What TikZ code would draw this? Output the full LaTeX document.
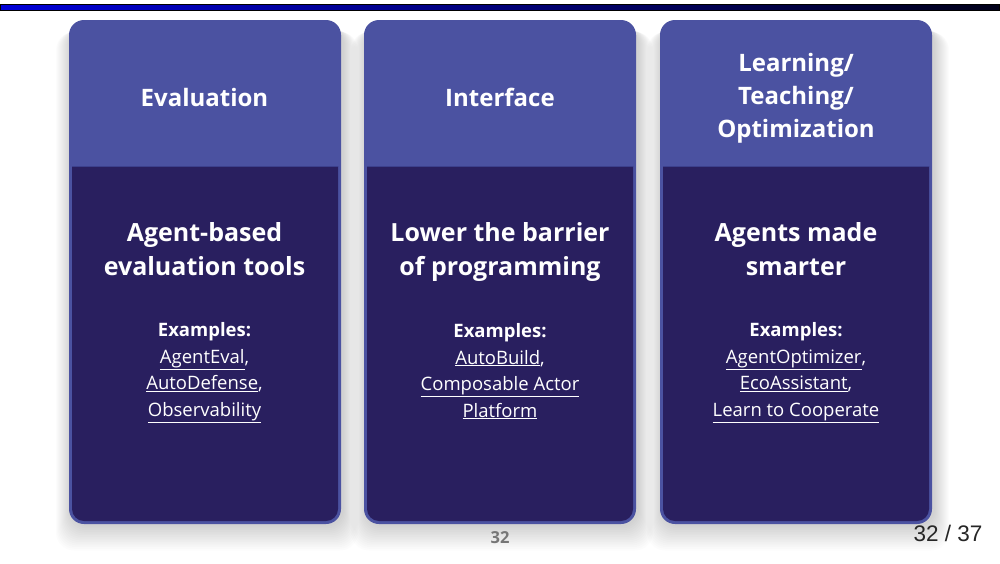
\documentclass[tikz,border=0pt]{standalone}
\usepackage{fontspec}
\setmainfont{Open Sans}
\newfontfamily\helv{Liberation Sans}

\definecolor{hdr}{RGB}{75,82,161}
\definecolor{bodyc}{RGB}{41,31,95}
\definecolor{hdrline}{RGB}{60,64,140}
\definecolor{barblue}{RGB}{0,0,215}
\definecolor{pagegray}{RGB}{118,118,118}

\newcommand{\lnk}[1]{\underline{#1}}

\tikzset{
  card/.style={fill=hdr, rounded corners=15pt, minimum width=272pt,
    minimum height=504pt, inner sep=0pt},
  shadowlayer/.style={fill=black, opacity=0.013, rounded corners=18pt},
  title/.style={text=white, align=center, font=\fontsize{24}{33}\selectfont\bfseries},
  claim/.style={text=white, align=center, font=\fontsize{25}{34}\selectfont\bfseries},
  examples/.style={text=white, align=center, font=\fontsize{18.5}{26.5}\selectfont},
}

\begin{document}
\begin{tikzpicture}[x=1pt,y=-1pt]
\useasboundingbox (0,0) rectangle (1000,563);
\fill[white] (0,0) rectangle (1000,563);

% title bar
\shade[left color=barblue, right color=black!90!blue] (0,4.5) rectangle (1000,10.5);
\draw[black, line width=1.2pt] (0,4.5) rectangle (1000,10.5);

% soft drop shadows behind the cards
\foreach \xo in {69, 364, 660} {
  \foreach \k in {1,...,15} {
    \fill[shadowlayer] ({\xo+2-\k}, {26+0.4*\k}) rectangle ({\xo+274+\k}, {525+1.7*\k});
  }
}

% cards
\foreach \i/\xo in {1/69, 2/364, 3/660} {
  \node[card] (card\i) at ({\xo+136},272) {};
  \fill[bodyc] ({\xo+3},166) {[rounded corners=12pt] -- ({\xo+3},521)
      -- ({\xo+269},521)} -- ({\xo+269},166) -- cycle;
  \draw[hdrline, line width=1pt] ({\xo+3},166) -- ({\xo+269},166);
}

% headers
\node[title] (h1) at (204.5,97) {Evaluation};
\node[title] (h2) at (500,97) {Interface};
\node[title] (h3) at (796,98) {Learning/\\Teaching/\\Optimization};

% claims
\node[claim] (m1) at (204.5,252) {Agent-based\\evaluation tools\vphantom{g}};
\node[claim] (m2) at (500,252) {Lower the barrier\\of programming};
\node[claim] (m3) at (796,252) {Agents made\\smarter\vphantom{g}};

% examples
\node[examples] (e1) at (204.5,372.5) {\textbf{Examples:}\\\lnk{AgentEval},\\\lnk{AutoDefense},\\\lnk{Observability}};
\node[examples] (e2) at (500,372.5) {\textbf{Examples:}\\\lnk{AutoBuild},\\\lnk{Composable Actor}\\\lnk{Platform}\vphantom{y}};
\node[examples] (e3) at (796,372.5) {\textbf{Examples:}\\\lnk{AgentOptimizer},\\\lnk{EcoAssistant},\\\lnk{Learn to Cooperate}};

% page numbers
\node[text=pagegray, font=\fontsize{16.5}{18}\selectfont\bfseries] (pg) at (500,538) {32};
\node[text=black!85, font=\helv\fontsize{22.5}{24}\selectfont] (pgof) at (948,533) {32 / 37};
\end{tikzpicture}
\end{document}
